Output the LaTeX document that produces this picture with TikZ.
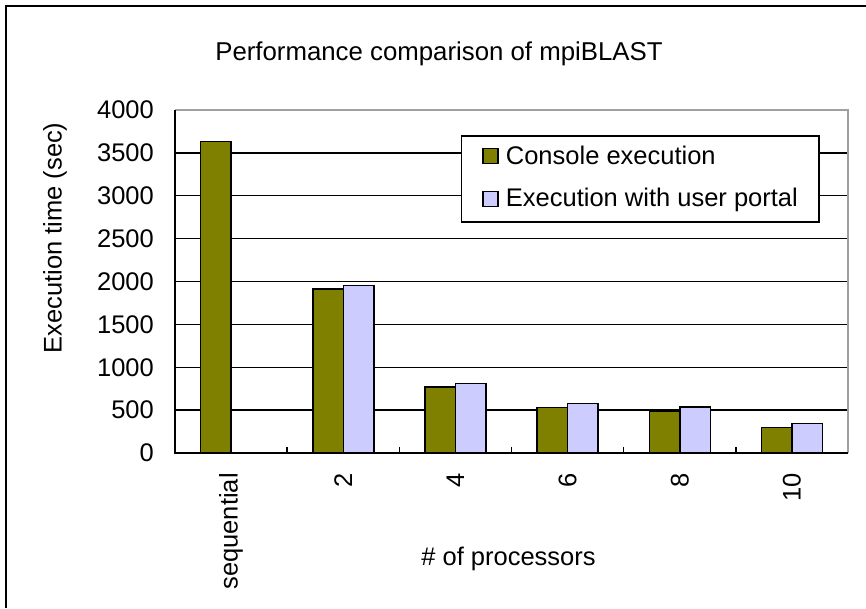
\documentclass[tikz,border=0pt]{standalone}
\usepackage{fontspec}
\setmainfont{Liberation Sans}
\definecolor{olivec}{RGB}{128,128,0}
\definecolor{bluec}{RGB}{204,204,255}
\definecolor{edgegray}{RGB}{160,160,160}
\begin{document}
\begin{tikzpicture}[x=1pt,y=-1pt,
  lbl/.style={font=\fontsize{25.5}{28}\selectfont, inner sep=0pt, text=black},
  barA/.style={draw=black, line width=1.5pt, fill=olivec},
  barB/.style={draw=black, line width=1.5pt, fill=bluec},
  gridline/.style={black, line width=1.3pt},
  axisline/.style={black, line width=1.5pt}]
\useasboundingbox (0,0) rectangle (866,608);
\fill[white] (0,0) rectangle (866,608);
% outer chart frame
\draw[line width=2pt] (6,608) -- (6,6) -- (866,6);
% gridlines
\foreach \v in {500,1000,...,3500}
  \draw[gridline] (175,{453-0.08575*\v}) -- (848,{453-0.08575*\v});
\draw[edgegray, line width=1.3pt] (175,110) -- (848,110) -- (848,453);
% bars
\foreach \i/\a/\b in {0/3630/0, 1/1910/1955, 2/770/813, 3/533/580, 4/482/536, 5/295/345}{
  \pgfmathsetmacro{\c}{175+112.17*(\i+0.5)}
  \draw[barA] ({\c-30.5},453) rectangle (\c,{453-0.08575*\a});
  \ifnum\b>0
    \draw[barB] (\c,453) rectangle ({\c+30.5},{453-0.08575*\b});
  \fi
}
% axes
\draw[axisline] (175,110) -- (175,453) -- (848,453);
\foreach \i in {1,...,5}
  \draw[axisline] ({175+112.17*\i},453) -- ++(0,-6);
% y tick labels
\foreach \v in {0,500,...,4000}
  \node[lbl, anchor=east] (yt\v) at (154,{453-0.08575*\v}) {\v};
% x tick labels
\foreach \i/\t in {0/sequential,1/2,2/4,3/6,4/8,5/10}
  \node[lbl, rotate=90, anchor=east] (xt\i) at ({175+112.17*(\i+0.5)},473) {\t};
% axis titles
\node[lbl, rotate=90] (ytitle) at (55,238) {Execution time (sec)};
\node[lbl, anchor=base] (xtitle) at (508.5,565) {\# of processors};
\node[lbl, anchor=base, font=\fontsize{25.8}{28}\selectfont] (title) at (439,60) {Performance comparison of mpiBLAST};
% legend
\node[draw=black, line width=1.5pt, fill=white, minimum width=357.6pt, minimum height=86pt,
      anchor=north west, inner sep=0pt] (legend) at (460.7,135) {};
\node[draw=black, line width=1.2pt, fill=olivec, minimum size=15pt, inner sep=0pt] (mkA) at (490.5,156.2) {};
\node[draw=black, line width=1.2pt, fill=bluec, minimum size=15pt, inner sep=0pt] (mkB) at (490.5,198.8) {};
\node[lbl, anchor=base west] (lgA) at (505.7,164.3) {Console execution};
\node[lbl, anchor=base west] (lgB) at (505.7,206.7) {Execution with user portal};
\end{tikzpicture}
\end{document}
